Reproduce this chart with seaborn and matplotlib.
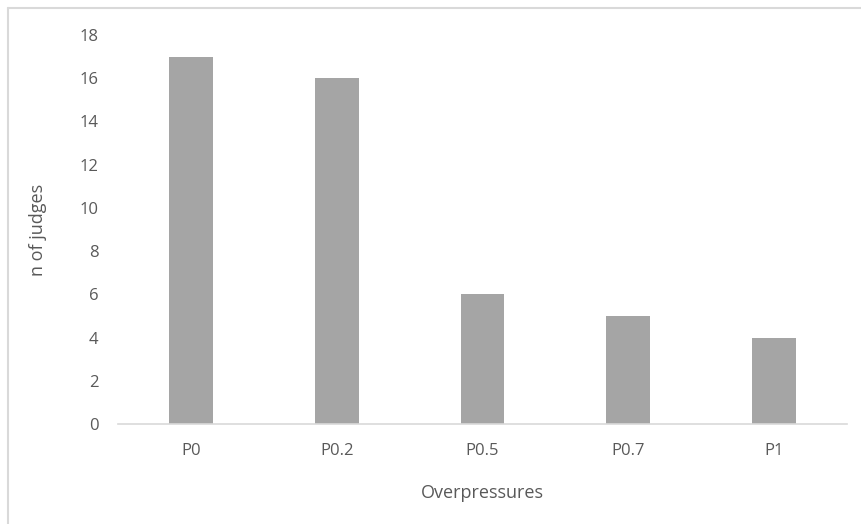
import pandas as pd
import matplotlib.pyplot as plt
import matplotlib.lines as mlines
import seaborn as sns

# data
categories = ['P0', 'P0.2', 'P0.5', 'P0.7', 'P1']
judges = [17, 16, 6, 5, 4]

df = pd.DataFrame({'Overpressures': categories, 'n of judges': judges})

sns.set_theme(style="white")
plt.rcParams['font.family'] = ['Open Sans', 'DejaVu Sans']

fig = plt.figure(figsize=(8.61, 5.24), dpi=100)
ax = fig.add_axes([118 / 861, 1 - 424 / 524, 729 / 861, 389 / 524])

sns.barplot(data=df, x='Overpressures', y='n of judges', color='#A5A5A5',
            saturation=1, width=0.3, linewidth=0, ax=ax)

ax.set_xlim(-0.5, 4.5)
ax.set_ylim(0, 18)
ax.set_yticks(range(0, 19, 2))

for s in ['top', 'right', 'left']:
    ax.spines[s].set_visible(False)
ax.spines['bottom'].set_color('#D9D9D9')
ax.spines['bottom'].set_linewidth(1.2)

ax.tick_params(axis='both', length=0, labelsize=12, labelcolor='#595959', pad=14)

ax.set_xlabel('Overpressures', fontsize=13, color='#595959')
ax.set_ylabel('n of judges', fontsize=13, color='#595959')
ax.xaxis.label.set_va('center')
ax.yaxis.label.set_va('center')
ax.xaxis.set_label_coords(0.5, (424 - 493) / 389)
ax.yaxis.set_label_coords((38 - 118) / 729, 0.5)

# chart area border (only top and left visible in the crop)
fig.add_artist(mlines.Line2D([8 / 861, 1], [1 - 8 / 524, 1 - 8 / 524],
                             transform=fig.transFigure, color='#D9D9D9', lw=1.5))
fig.add_artist(mlines.Line2D([8 / 861, 8 / 861], [0, 1 - 8 / 524],
                             transform=fig.transFigure, color='#D9D9D9', lw=1.5))

plt.savefig('out.png', dpi=100)
